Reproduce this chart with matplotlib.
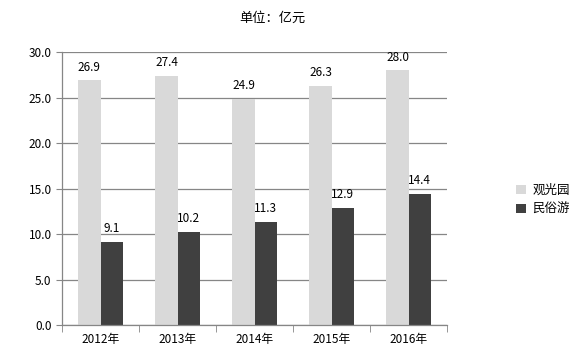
import matplotlib
matplotlib.use("Agg")
import matplotlib.pyplot as plt
import numpy as np

plt.rcParams['font.family'] = ['Noto Sans CJK SC', 'DejaVu Sans']

categories = ['2012年', '2013年', '2014年', '2015年', '2016年']
series_names = ['观光园', '民俗游']
guanguang = [26.9, 27.4, 24.9, 26.3, 28.0]
minsu = [9.1, 10.2, 11.3, 12.9, 14.4]
yticks = [0, 5, 10, 15, 20, 25, 30]

colors = ['#d9d9d9', '#404040']

fig = plt.figure(figsize=(5.8, 3.57), dpi=100)
ax = fig.add_axes([0.107, 0.0896, 0.664, 0.764])

x = np.arange(len(categories))
w = 0.29
b1 = ax.bar(x - w/2, guanguang, width=w, color=colors[0], label=series_names[0], zorder=3)
b2 = ax.bar(x + w/2, minsu, width=w, color=colors[1], label=series_names[1], zorder=3)

for rects, vals in ((b1, guanguang), (b2, minsu)):
    for r, v in zip(rects, vals):
        ax.annotate(f'{v:.1f}', (r.get_x() + r.get_width()/2, r.get_height()),
                    xytext=(0, 5), textcoords='offset points', ha='center', va='bottom',
                    fontsize=8.5, color='black')

ax.set_ylim(0, 30)
ax.set_xlim(-0.5, len(categories) - 0.5)
ax.set_yticks(yticks)
ax.set_yticklabels([f'{v:.1f}' for v in yticks], fontsize=8.5)
ax.set_xticks(x)
ax.set_xticklabels(categories, fontsize=8.5)
ax.set_xticks(np.arange(len(categories) + 1) - 0.5, minor=True)
ax.tick_params(axis='x', which='major', length=0, pad=6)
ax.tick_params(axis='x', which='minor', length=5, color='#868686', direction='out')
ax.tick_params(axis='y', length=4, color='#868686', direction='out')

ax.grid(axis='y', color='#868686', linewidth=0.9, zorder=0)
for s in ('top', 'right'):
    ax.spines[s].set_visible(False)
for s in ('left', 'bottom'):
    ax.spines[s].set_color('#868686')
    ax.spines[s].set_linewidth(0.9)
ax.spines['bottom'].set_zorder(4)

fig.text(0.47, 0.95, '单位：亿元', ha='center', va='center', fontsize=9.5)

leg = fig.legend(handles=[b1, b2], labels=series_names, loc='center left',
                 bbox_to_anchor=(0.87, 0.44), frameon=False, fontsize=9,
                 handlelength=0.8, handleheight=0.8, handletextpad=0.5, labelspacing=0.5)

fig.savefig('out.png', dpi=100)
